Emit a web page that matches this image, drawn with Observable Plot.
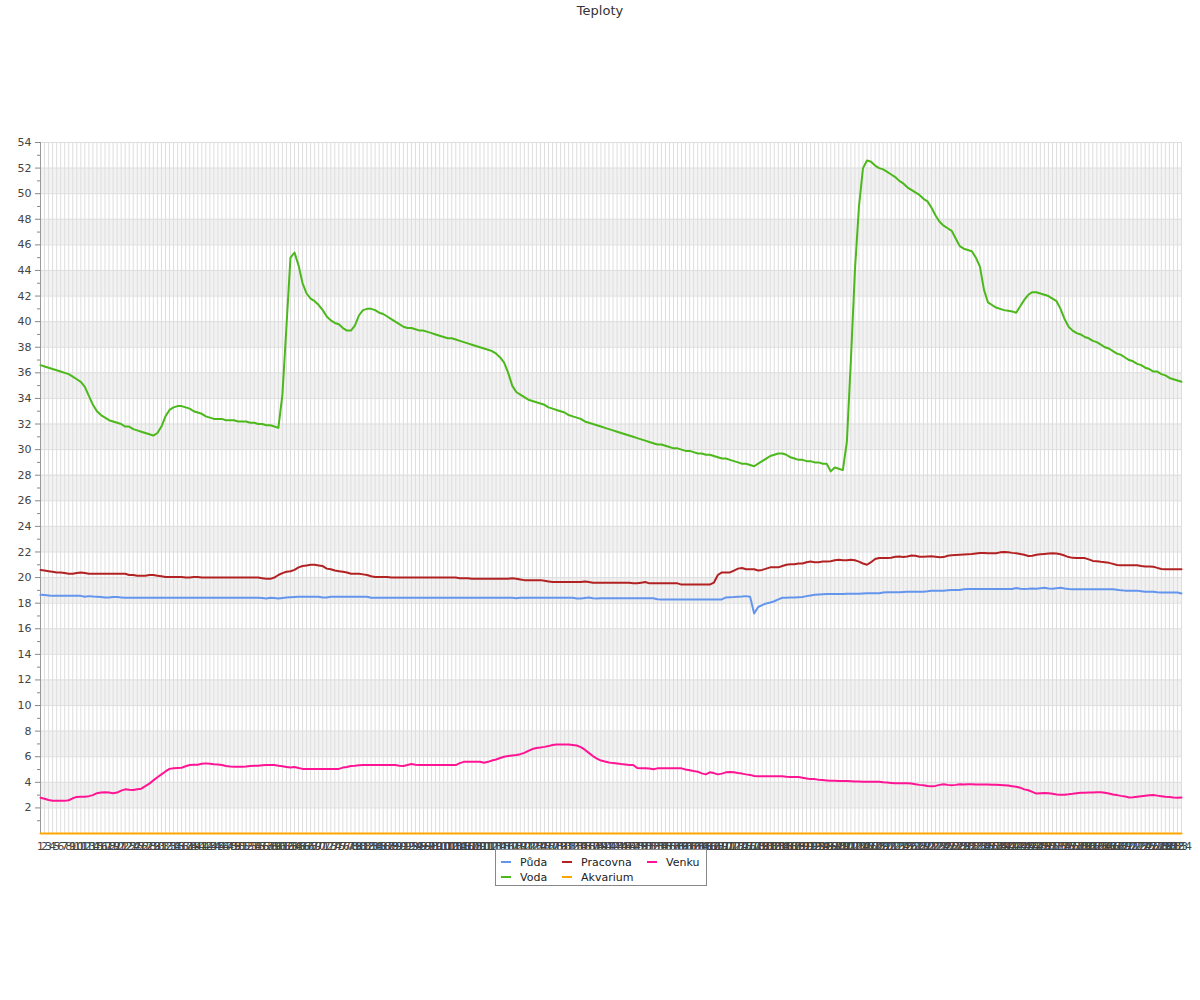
<!DOCTYPE html>
<html><head><meta charset="utf-8">
<script src="https://cdn.jsdelivr.net/npm/d3@7"></script>
<script src="https://cdn.jsdelivr.net/npm/@observablehq/plot@0.6"></script>
<style>
body{margin:0;background:#fff;font-family:"DejaVu Sans",sans-serif;}
#wrap{position:relative;width:1200px;height:1000px;background:#fff;}
#title{position:absolute;left:0;top:3px;width:1200px;text-align:center;font-size:13px;line-height:16px;color:#333;}
#chart{position:absolute;left:0;top:130px;}
#legend{position:absolute;left:495px;top:849px;width:210px;height:35px;border:1px solid #888;background:#fff;font-size:11px;color:#222;}
.item{position:absolute;display:flex;align-items:center;height:14px;white-space:nowrap;}
.sw{width:10px;height:2px;margin-right:9px;}
</style></head>
<body><div id="wrap"><div id="title">Teploty</div><div id="chart"></div><div id="legend"></div></div>
<script>
const title = "Teploty";
const seriesNames = ["Půda", "Voda", "Pracovna", "Akvarium", "Venku"];
const seriesColors = ["#6495ED", "#4CB81C", "#B22222", "#FFA500", "#FF1493"];
const yTicks = [2,4,6,8,10,12,14,16,18,20,22,24,26,28,30,32,34,36,38,40,42,44,46,48,50,52,54];
const yMinorTicks = [1,3,5,7,9,11,13,15,17,19,21,23,25,27,29,31,33,35,37,39,41,43,45,47,49,51,53];
const bandStarts = [2,6,10,14,18,22,26,30,34,38,42,46,50];

const puda = [
18.65,18.63,18.6,18.57,18.57,18.57,18.57,18.57,18.57,18.57,
18.57,18.5,18.55,18.52,18.5,18.48,18.45,18.45,18.48,18.48,
18.45,18.42,18.42,18.42,18.42,18.42,18.42,18.42,18.42,18.42,
18.42,18.42,18.42,18.42,18.42,18.42,18.42,18.42,18.42,18.42,
18.42,18.42,18.42,18.42,18.42,18.42,18.42,18.42,18.42,18.42,
18.42,18.42,18.42,18.42,18.42,18.4,18.37,18.43,18.4,18.36,
18.4,18.44,18.46,18.48,18.5,18.5,18.5,18.5,18.5,18.5,
18.45,18.45,18.5,18.5,18.5,18.5,18.5,18.5,18.5,18.5,
18.5,18.5,18.43,18.42,18.42,18.42,18.42,18.42,18.42,18.42,
18.42,18.42,18.42,18.42,18.42,18.42,18.42,18.42,18.42,18.42,
18.42,18.42,18.42,18.42,18.42,18.42,18.42,18.42,18.42,18.42,
18.42,18.42,18.42,18.42,18.42,18.42,18.42,18.42,18.38,18.42,
18.42,18.42,18.42,18.42,18.42,18.42,18.42,18.42,18.42,18.42,
18.42,18.42,18.42,18.37,18.36,18.4,18.44,18.38,18.36,18.38,
18.38,18.38,18.38,18.38,18.38,18.38,18.38,18.38,18.38,18.38,
18.38,18.38,18.38,18.3,18.29,18.29,18.29,18.29,18.29,18.29,
18.29,18.29,18.29,18.29,18.29,18.29,18.29,18.29,18.29,18.29,
18.45,18.47,18.48,18.5,18.52,18.55,18.5,17.2,17.7,17.85,
17.98,18.05,18.15,18.3,18.42,18.43,18.44,18.45,18.47,18.49,
18.55,18.6,18.65,18.68,18.7,18.72,18.72,18.72,18.72,18.72,
18.73,18.73,18.73,18.73,18.75,18.77,18.77,18.77,18.77,18.83,
18.85,18.85,18.85,18.85,18.88,18.9,18.9,18.9,18.9,18.9,
18.93,18.97,18.97,18.97,18.97,19.0,19.03,19.03,19.03,19.08,
19.1,19.1,19.1,19.1,19.1,19.1,19.1,19.1,19.1,19.1,
19.1,19.1,19.18,19.12,19.1,19.12,19.15,19.12,19.17,19.2,
19.14,19.12,19.17,19.2,19.14,19.1,19.09,19.09,19.09,19.09,
19.09,19.09,19.09,19.09,19.09,19.09,19.09,19.05,19.0,18.98,
18.98,18.98,18.98,18.94,18.9,18.9,18.9,18.85,18.83,18.83,
18.83,18.83,18.83,18.75];

const voda = [
36.6,36.5,36.4,36.3,36.2,36.1,36.0,35.9,35.7,35.5,
35.3,34.9,34.2,33.5,33.0,32.7,32.5,32.3,32.2,32.1,
32.0,31.8,31.8,31.6,31.5,31.4,31.3,31.2,31.1,31.3,
31.8,32.6,33.1,33.3,33.4,33.4,33.3,33.2,33.0,32.9,
32.8,32.6,32.5,32.4,32.4,32.4,32.3,32.3,32.3,32.2,
32.2,32.2,32.1,32.1,32.0,32.0,31.9,31.9,31.8,31.7,
34.3,39.6,45.0,45.4,44.4,43.0,42.2,41.8,41.6,41.3,
40.9,40.4,40.1,39.9,39.8,39.5,39.3,39.3,39.7,40.5,
40.9,41.0,41.0,40.9,40.7,40.6,40.4,40.2,40.0,39.8,
39.6,39.5,39.5,39.4,39.3,39.3,39.2,39.1,39.0,38.9,
38.8,38.7,38.7,38.6,38.5,38.4,38.3,38.2,38.1,38.0,
37.9,37.8,37.7,37.5,37.2,36.8,36.0,35.0,34.5,34.3,
34.1,33.9,33.8,33.7,33.6,33.5,33.3,33.2,33.1,33.0,
32.9,32.7,32.6,32.5,32.4,32.2,32.1,32.0,31.9,31.8,
31.7,31.6,31.5,31.4,31.3,31.2,31.1,31.0,30.9,30.8,
30.7,30.6,30.5,30.4,30.4,30.3,30.2,30.1,30.1,30.0,
29.9,29.9,29.8,29.7,29.7,29.6,29.6,29.5,29.4,29.3,
29.3,29.2,29.1,29.0,28.9,28.9,28.8,28.7,28.9,29.1,
29.3,29.5,29.6,29.7,29.7,29.6,29.4,29.3,29.2,29.2,
29.1,29.1,29.0,29.0,28.9,28.9,28.3,28.6,28.5,28.4,
30.6,37.0,44.0,49.0,52.0,52.6,52.5,52.2,52.0,51.9,
51.7,51.5,51.3,51.0,50.8,50.5,50.3,50.1,49.9,49.6,
49.4,48.9,48.3,47.8,47.5,47.3,47.1,46.5,45.9,45.7,
45.6,45.5,45.0,44.3,42.5,41.5,41.3,41.1,41.0,40.9,
40.85,40.8,40.7,41.2,41.7,42.1,42.3,42.3,42.2,42.1,
42.0,41.8,41.6,41.0,40.2,39.6,39.3,39.1,39.0,38.8,
38.7,38.5,38.4,38.2,38.0,37.9,37.7,37.5,37.4,37.2,
37.0,36.9,36.7,36.6,36.4,36.3,36.1,36.1,35.9,35.8,
35.6,35.5,35.4,35.3];

const pracovna = [
20.6,20.55,20.5,20.45,20.4,20.4,20.35,20.3,20.3,20.35,
20.4,20.35,20.3,20.3,20.3,20.3,20.3,20.3,20.3,20.3,
20.3,20.3,20.2,20.2,20.15,20.15,20.15,20.2,20.2,20.15,
20.1,20.05,20.05,20.05,20.05,20.05,20.0,20.0,20.05,20.05,
20.0,20.0,20.0,20.0,20.0,20.0,20.0,20.0,20.0,20.0,
20.0,20.0,20.0,20.0,20.0,19.95,19.9,19.9,20.0,20.2,
20.35,20.45,20.5,20.6,20.8,20.9,20.95,21.0,21.0,20.95,
20.9,20.7,20.65,20.55,20.5,20.45,20.4,20.3,20.3,20.3,
20.25,20.2,20.1,20.05,20.05,20.05,20.05,20.0,20.0,20.0,
20.0,20.0,20.0,20.0,20.0,20.0,20.0,20.0,20.0,20.0,
20.0,20.0,20.0,20.0,19.95,19.95,19.95,19.9,19.9,19.9,
19.9,19.9,19.9,19.9,19.9,19.9,19.9,19.95,19.9,19.85,
19.8,19.8,19.8,19.8,19.8,19.75,19.7,19.65,19.65,19.65,
19.65,19.65,19.65,19.65,19.65,19.7,19.65,19.6,19.6,19.6,
19.6,19.6,19.6,19.6,19.6,19.6,19.6,19.55,19.55,19.6,
19.65,19.55,19.55,19.55,19.55,19.55,19.55,19.55,19.55,19.45,
19.45,19.45,19.45,19.45,19.45,19.45,19.45,19.6,20.2,20.4,
20.4,20.4,20.55,20.7,20.75,20.65,20.65,20.65,20.55,20.6,
20.7,20.8,20.8,20.8,20.9,21.0,21.05,21.05,21.1,21.1,
21.2,21.25,21.2,21.2,21.25,21.25,21.27,21.35,21.4,21.35,
21.35,21.4,21.35,21.25,21.1,21.0,21.2,21.45,21.53,21.53,
21.53,21.55,21.62,21.64,21.6,21.65,21.72,21.7,21.62,21.63,
21.65,21.66,21.63,21.58,21.6,21.7,21.74,21.76,21.78,21.8,
21.82,21.84,21.88,21.92,21.92,21.9,21.9,21.9,21.97,22.0,
21.97,21.93,21.9,21.85,21.78,21.68,21.7,21.79,21.82,21.85,
21.88,21.9,21.88,21.82,21.72,21.6,21.54,21.53,21.53,21.52,
21.42,21.3,21.27,21.23,21.2,21.15,21.07,20.98,20.96,20.96,
20.96,20.96,20.96,20.9,20.86,20.86,20.84,20.76,20.67,20.65,
20.65,20.65,20.65,20.65];

const akvarium = [
0,0,0,0,0,0,0,0,0,0,0,0,0,0,0,0,0,0,0,0,
0,0,0,0,0,0,0,0,0,0,0,0,0,0,0,0,0,0,0,0,
0,0,0,0,0,0,0,0,0,0,0,0,0,0,0,0,0,0,0,0,
0,0,0,0,0,0,0,0,0,0,0,0,0,0,0,0,0,0,0,0,
0,0,0,0,0,0,0,0,0,0,0,0,0,0,0,0,0,0,0,0,
0,0,0,0,0,0,0,0,0,0,0,0,0,0,0,0,0,0,0,0,
0,0,0,0,0,0,0,0,0,0,0,0,0,0,0,0,0,0,0,0,
0,0,0,0,0,0,0,0,0,0,0,0,0,0,0,0,0,0,0,0,
0,0,0,0,0,0,0,0,0,0,0,0,0,0,0,0,0,0,0,0,
0,0,0,0,0,0,0,0,0,0,0,0,0,0,0,0,0,0,0,0,
0,0,0,0,0,0,0,0,0,0,0,0,0,0,0,0,0,0,0,0,
0,0,0,0,0,0,0,0,0,0,0,0,0,0,0,0,0,0,0,0,
0,0,0,0,0,0,0,0,0,0,0,0,0,0,0,0,0,0,0,0,
0,0,0,0,0,0,0,0,0,0,0,0,0,0,0,0,0,0,0,0,
0,0,0,0];

const venku = [
2.8,2.72,2.62,2.56,2.55,2.55,2.55,2.6,2.75,2.86,
2.88,2.88,2.92,3.0,3.15,3.2,3.22,3.2,3.15,3.2,
3.35,3.45,3.42,3.4,3.45,3.5,3.7,3.9,4.15,4.4,
4.62,4.85,5.05,5.1,5.12,5.14,5.25,5.35,5.38,5.38,
5.45,5.48,5.45,5.42,5.4,5.35,5.28,5.23,5.22,5.22,
5.22,5.23,5.28,5.3,5.3,5.33,5.35,5.35,5.35,5.3,
5.25,5.2,5.15,5.2,5.12,5.05,5.04,5.04,5.04,5.04,
5.04,5.04,5.04,5.04,5.05,5.15,5.2,5.28,5.3,5.33,
5.35,5.35,5.35,5.35,5.35,5.35,5.35,5.35,5.35,5.3,
5.27,5.35,5.43,5.38,5.35,5.35,5.35,5.35,5.35,5.35,
5.35,5.35,5.35,5.35,5.5,5.6,5.6,5.6,5.6,5.6,
5.53,5.6,5.7,5.78,5.9,6.0,6.05,6.1,6.13,6.2,
6.3,6.45,6.6,6.68,6.72,6.77,6.83,6.92,6.96,6.96,
6.96,6.96,6.92,6.88,6.75,6.55,6.3,6.05,5.85,5.7,
5.62,5.55,5.5,5.47,5.43,5.4,5.36,5.35,5.12,5.09,
5.1,5.08,5.02,5.09,5.09,5.09,5.09,5.09,5.09,5.09,
5.0,4.95,4.88,4.83,4.7,4.62,4.78,4.72,4.62,4.68,
4.78,4.8,4.78,4.72,4.68,4.62,4.58,4.5,4.47,4.47,
4.47,4.47,4.47,4.47,4.47,4.44,4.42,4.42,4.42,4.35,
4.3,4.25,4.25,4.2,4.18,4.15,4.12,4.12,4.1,4.1,
4.1,4.08,4.06,4.06,4.05,4.05,4.05,4.05,4.05,4.0,
3.98,3.95,3.92,3.92,3.92,3.92,3.9,3.85,3.8,3.77,
3.72,3.69,3.72,3.8,3.84,3.8,3.77,3.8,3.84,3.82,
3.84,3.84,3.83,3.83,3.82,3.82,3.81,3.8,3.79,3.78,
3.75,3.7,3.65,3.58,3.45,3.38,3.25,3.12,3.14,3.16,
3.15,3.1,3.05,3.02,3.03,3.06,3.1,3.15,3.18,3.19,
3.2,3.21,3.22,3.22,3.18,3.13,3.05,3.0,2.94,2.9,
2.82,2.84,2.88,2.92,2.95,2.98,3.0,2.96,2.92,2.88,
2.85,2.81,2.8,2.82];

// categories: sample numbers 1..284 (x tick labels)
const categories = d3.range(1, puda.length + 1).map(String);

const seriesValues = [puda, voda, pracovna, akvarium, venku];
const rows = [];
seriesNames.forEach((name, s) => {
  seriesValues[s].forEach((v, i) => rows.push({series: name, x: categories[i], y: v}));
});
const bands = bandStarts.map(b => ({y1: b, y2: b + 2}));
const firstCat = categories[0], lastCat = categories[categories.length - 1];
const drawOrder = ["Půda", "Pracovna", "Venku", "Voda", "Akvarium"];

const chart = Plot.plot({
  width: 1200,
  height: 723,
  marginTop: 12,
  marginBottom: 20,
  marginLeft: 40,
  marginRight: 19,
  style: {fontFamily: "DejaVu Sans", fontSize: "11px", color: "#444", background: "white", overflow: "visible"},
  x: {type: "point", domain: categories, padding: 0, round: false, label: null},
  y: {domain: [0, 54], label: null},
  color: {domain: seriesNames, range: seriesColors},
  marks: [
    Plot.rect(bands, {x1: () => firstCat, x2: () => lastCat, y1: "y1", y2: "y2", fill: "#f2f2f2"}),
    Plot.ruleX(categories, {stroke: "#dedede", strokeWidth: 1}),
    Plot.ruleY(yTicks, {stroke: "#dedede", strokeWidth: 1}),
    Plot.axisY({ticks: yMinorTicks, tickSize: 3, tickFormat: () => "", stroke: "#888", label: null}),
    Plot.axisY({ticks: yTicks, tickSize: 5, tickPadding: 4, stroke: "#888", fill: "#444", label: null}),
    Plot.axisX({ticks: categories, tickSize: 0, tickPadding: 9, fill: "#444", label: null}),
    Plot.ruleX([firstCat], {stroke: "#999", strokeWidth: 1}),
    Plot.ruleY([0], {stroke: "#999", strokeWidth: 1}),
    ...drawOrder.map(name => Plot.line(rows.filter(r => r.series === name), {
      x: "x", y: "y", stroke: "series", strokeWidth: 2, strokeLinejoin: "round"
    }))
  ]
});
document.getElementById("chart").appendChild(chart);

// legend (below the plot)
const legend = document.getElementById("legend");
const colLeft = [5, 66, 151];
const rowTop = [5, 20];
seriesNames.forEach((name, i) => {
  const item = document.createElement("div");
  item.className = "item";
  item.style.left = colLeft[Math.floor(i / 2)] + "px";
  item.style.top = rowTop[i % 2] + "px";
  const sw = document.createElement("span");
  sw.className = "sw";
  sw.style.background = seriesColors[i];
  const tx = document.createElement("span");
  tx.textContent = name;
  item.appendChild(sw);
  item.appendChild(tx);
  legend.appendChild(item);
});
document.getElementById("title").textContent = title;
</script></body></html>
